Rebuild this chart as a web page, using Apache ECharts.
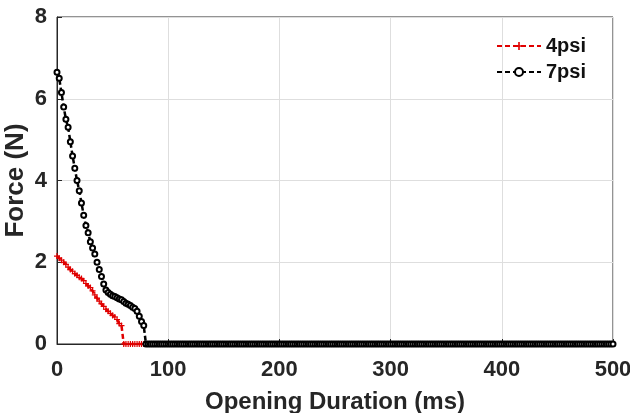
<!DOCTYPE html>
<html>
<head>
<meta charset="utf-8">
<script src="https://cdn.jsdelivr.net/npm/echarts@6/dist/echarts.min.js"></script>
<style>
  html, body { margin: 0; padding: 0; background: #fff; }
  #chart { width: 630px; height: 413px; }
</style>
</head>
<body>
<div id="chart"></div>
<script>
// Opening time samples (ms) for the active part of each trace; both traces stay at 0 N afterwards
const timeStep = 2;
const endTime = 500;

const force4psi = [2.15, 2.1, 2.05, 2.0, 1.95, 1.88, 1.82, 1.78, 1.72, 1.68,
  1.63, 1.6, 1.55, 1.48, 1.42, 1.38, 1.3, 1.2, 1.12, 1.05,
  0.98, 0.92, 0.85, 0.8, 0.75, 0.7, 0.66, 0.6, 0.5, 0.45, 0];

const force7psi = [6.65, 6.5, 6.15, 5.8, 5.5, 5.3, 4.95, 4.6, 4.3, 4.0,
  3.75, 3.45, 3.15, 2.9, 2.72, 2.5, 2.35, 2.2, 2.0, 1.82,
  1.65, 1.47, 1.32, 1.26, 1.22, 1.18, 1.16, 1.13, 1.1, 1.08,
  1.04, 1.0, 0.97, 0.94, 0.9, 0.87, 0.8, 0.68, 0.55, 0.45, 0];

const seriesNames = ['4psi', '7psi'];
const xTicks = [0, 100, 200, 300, 400, 500];
const yTicks = [0, 2, 4, 6, 8];

// Pair each force reading with its time and pad with zeros up to the end of the record
function toPoints(values) {
  const pts = [];
  for (let i = 0; i * timeStep <= endTime; i++) {
    pts.push([i * timeStep, i < values.length ? values[i] : 0]);
  }
  return pts;
}

const font = 'Liberation Sans, Arial, sans-serif';
const ink = '#262626';
const plusMark = 'path://M4 0h2v4h4v2h-4v4h-2v-4h-4v-2h4z';
const chart = echarts.init(document.getElementById('chart'), null, { renderer: 'canvas' });

chart.setOption({
  animation: false,
  backgroundColor: '#ffffff',
  grid: {
    left: 57, right: 17, top: 17, bottom: 69,
    containLabel: false, outerBoundsMode: 'none',
    show: true, borderColor: ink, borderWidth: 1, backgroundColor: 'transparent'
  },
  legend: {
    left: 491, top: 31,
    orient: 'vertical',
    itemWidth: 44, itemHeight: 10, itemGap: 6,
    textStyle: { fontFamily: font, fontWeight: 'bold', fontSize: 20, color: '#111' },
    data: seriesNames
  },
  xAxis: {
    type: 'value',
    min: xTicks[0], max: xTicks[xTicks.length - 1], interval: 100,
    name: 'Opening Duration (ms)',
    nameLocation: 'middle', nameGap: 46, nameMoveOverlap: false,
    nameTextStyle: { fontFamily: font, fontWeight: 'bold', fontSize: 24, color: ink },
    axisLine: { lineStyle: { color: ink, width: 1 } },
    axisTick: { inside: true, length: 5, lineStyle: { color: ink } },
    axisLabel: { fontFamily: font, fontWeight: 'bold', fontSize: 22, color: ink, margin: 15 },
    splitLine: { show: true, lineStyle: { color: '#dedede', width: 1 } }
  },
  yAxis: {
    type: 'value',
    min: yTicks[0], max: yTicks[yTicks.length - 1], interval: 2,
    name: 'Force (N)',
    nameLocation: 'middle', nameGap: 28, nameMoveOverlap: false,
    nameTextStyle: { fontFamily: font, fontWeight: 'bold', fontSize: 26, color: ink },
    axisLine: { show: true, lineStyle: { color: ink, width: 1 } },
    axisTick: { show: true, inside: true, length: 5, lineStyle: { color: ink } },
    axisLabel: { fontFamily: font, fontWeight: 'bold', fontSize: 22, color: ink, margin: 10 },
    splitLine: { show: true, lineStyle: { color: '#dedede', width: 1 } }
  },
  series: [
    {
      name: seriesNames[0],
      type: 'line',
      data: toPoints(force4psi),
      color: '#e00000',
      lineStyle: { color: '#e00000', width: 2.5, type: [5, 3] },
      symbol: plusMark, symbolSize: 6,
      itemStyle: { color: '#e00000' },
      clip: false,
      z: 2
    },
    {
      name: seriesNames[1],
      type: 'line',
      data: toPoints(force7psi),
      color: '#000000',
      lineStyle: { color: '#000000', width: 2.5, type: [5, 3] },
      symbol: 'emptyCircle', symbolSize: 5,
      itemStyle: { color: '#000000', borderWidth: 1.8 },
      clip: false,
      z: 3
    }
  ]
});
</script>
</body>
</html>
